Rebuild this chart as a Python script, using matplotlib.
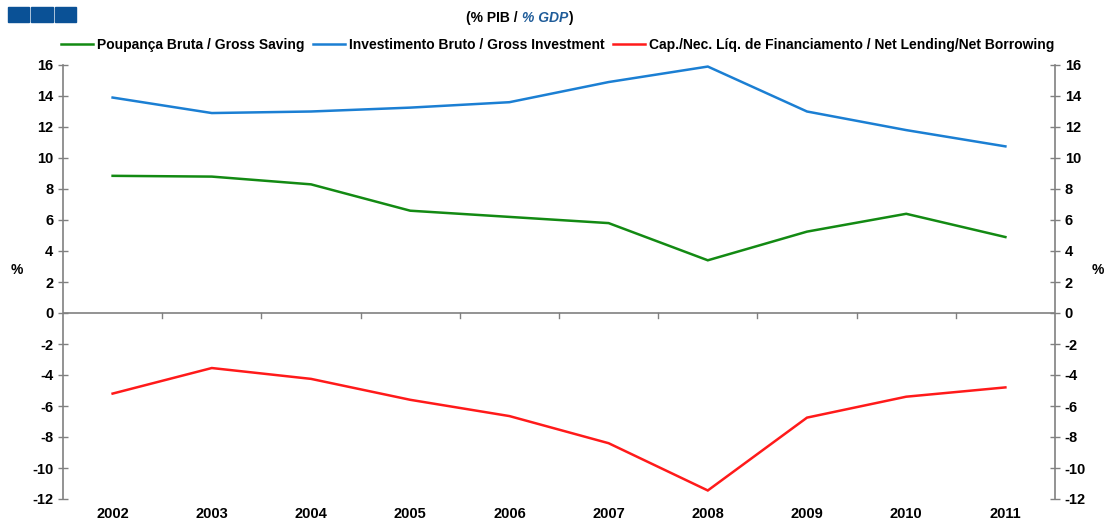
import matplotlib
matplotlib.use("Agg")
import matplotlib.pyplot as plt
from matplotlib.patches import Rectangle
from matplotlib.lines import Line2D

plt.rcParams['font.family'] = ['Liberation Sans', 'DejaVu Sans']
plt.rcParams['axes.unicode_minus'] = False

years = ['2002', '2003', '2004', '2005', '2006', '2007', '2008', '2009', '2010', '2011']
saving = [8.85, 8.8, 8.3, 6.6, 6.2, 5.8, 3.4, 5.25, 6.4, 4.9]
investment = [13.9, 12.9, 13.0, 13.25, 13.6, 14.9, 15.9, 13.0, 11.8, 10.75]
net_lending = [-5.2, -3.55, -4.25, -5.6, -6.65, -8.4, -11.45, -6.75, -5.4, -4.8]

labels = ['Poupança Bruta / Gross Saving',
          'Investimento Bruto / Gross Investment',
          'Cap./Nec. Líq. de Financiamento / Net Lending/Net Borrowing']
colors = ['#138a13', '#1b7fd3', '#ff1a1a']

W, H = 1104, 522
fig = plt.figure(figsize=(W / 100, H / 100), dpi=100)
ax = fig.add_axes([63 / W, 1 - 499 / H, (1055 - 63) / W, (499 - 65) / H])

x = list(range(len(years)))
for vals, col, lab in zip([saving, investment, net_lending], colors, labels):
    ax.plot(x, vals, color=col, lw=1.8, label=lab, solid_joinstyle='miter')

ax.set_xlim(-0.5, len(years) - 0.5)
ax.set_ylim(-12, 16)
ax.set_yticks(range(-12, 17, 2))

for s in ['top', 'bottom']:
    ax.spines[s].set_visible(False)
for s in ['left', 'right']:
    ax.spines[s].set_color('#808080')
    ax.spines[s].set_linewidth(1.2)
ax.axhline(0, color='#808080', lw=1.2, zorder=1)

# category boundary ticks along the zero line
for b in range(1, len(years)):
    ax.plot([b - 0.5, b - 0.5], [0, -0.3], color='#808080', lw=1.0, clip_on=False)

ax.set_xticks(x)
ax.set_xticklabels(years, fontsize=10.5, fontweight='bold')
ax.tick_params(axis='x', length=0, pad=6)
ax.tick_params(axis='y', direction='inout', length=7, width=1.0, color='#808080',
               labelsize=10.5, left=True, right=True, labelleft=True, labelright=True)
for lbl in ax.get_yticklabels():
    lbl.set_fontweight('bold')

fig.text(17 / W, 1 - 270 / H, '%', fontsize=10, fontweight='bold', ha='center', va='center')
fig.text(1098 / W, 1 - 270 / H, '%', fontsize=10, fontweight='bold', ha='center', va='center')

# title, built from three pieces placed one after the other
fig.canvas.draw()
r = fig.canvas.get_renderer()
xpos = 466 / W
for txt, st, col in [('(% PIB / ', 'normal', 'black'), ('% GDP', 'italic', '#1f5c99'),
                     (')', 'normal', 'black')]:
    t = fig.text(xpos, 1 - 18 / H, txt, fontsize=10, fontweight='bold', style=st,
                 color=col, va='center')
    bb = t.get_window_extent(renderer=r)
    xpos += bb.width / W

# decorative squares
for i in range(3):
    fig.patches.append(Rectangle(((8 + i * 23.5) / W, 1 - 22 / H), 21 / W, 15 / H,
                                 transform=fig.transFigure, color='#0a5196'))

handles = [Line2D([], [], color=c, lw=1.8) for c in colors]
fig.legend(handles, labels, loc='center', bbox_to_anchor=(558 / W, 1 - 45 / H), ncol=3,
           frameon=False, handlelength=2.3, handletextpad=0.3,
           columnspacing=0.6, prop={'weight': 'bold', 'size': 10})

fig.savefig('out.png', dpi=100)
